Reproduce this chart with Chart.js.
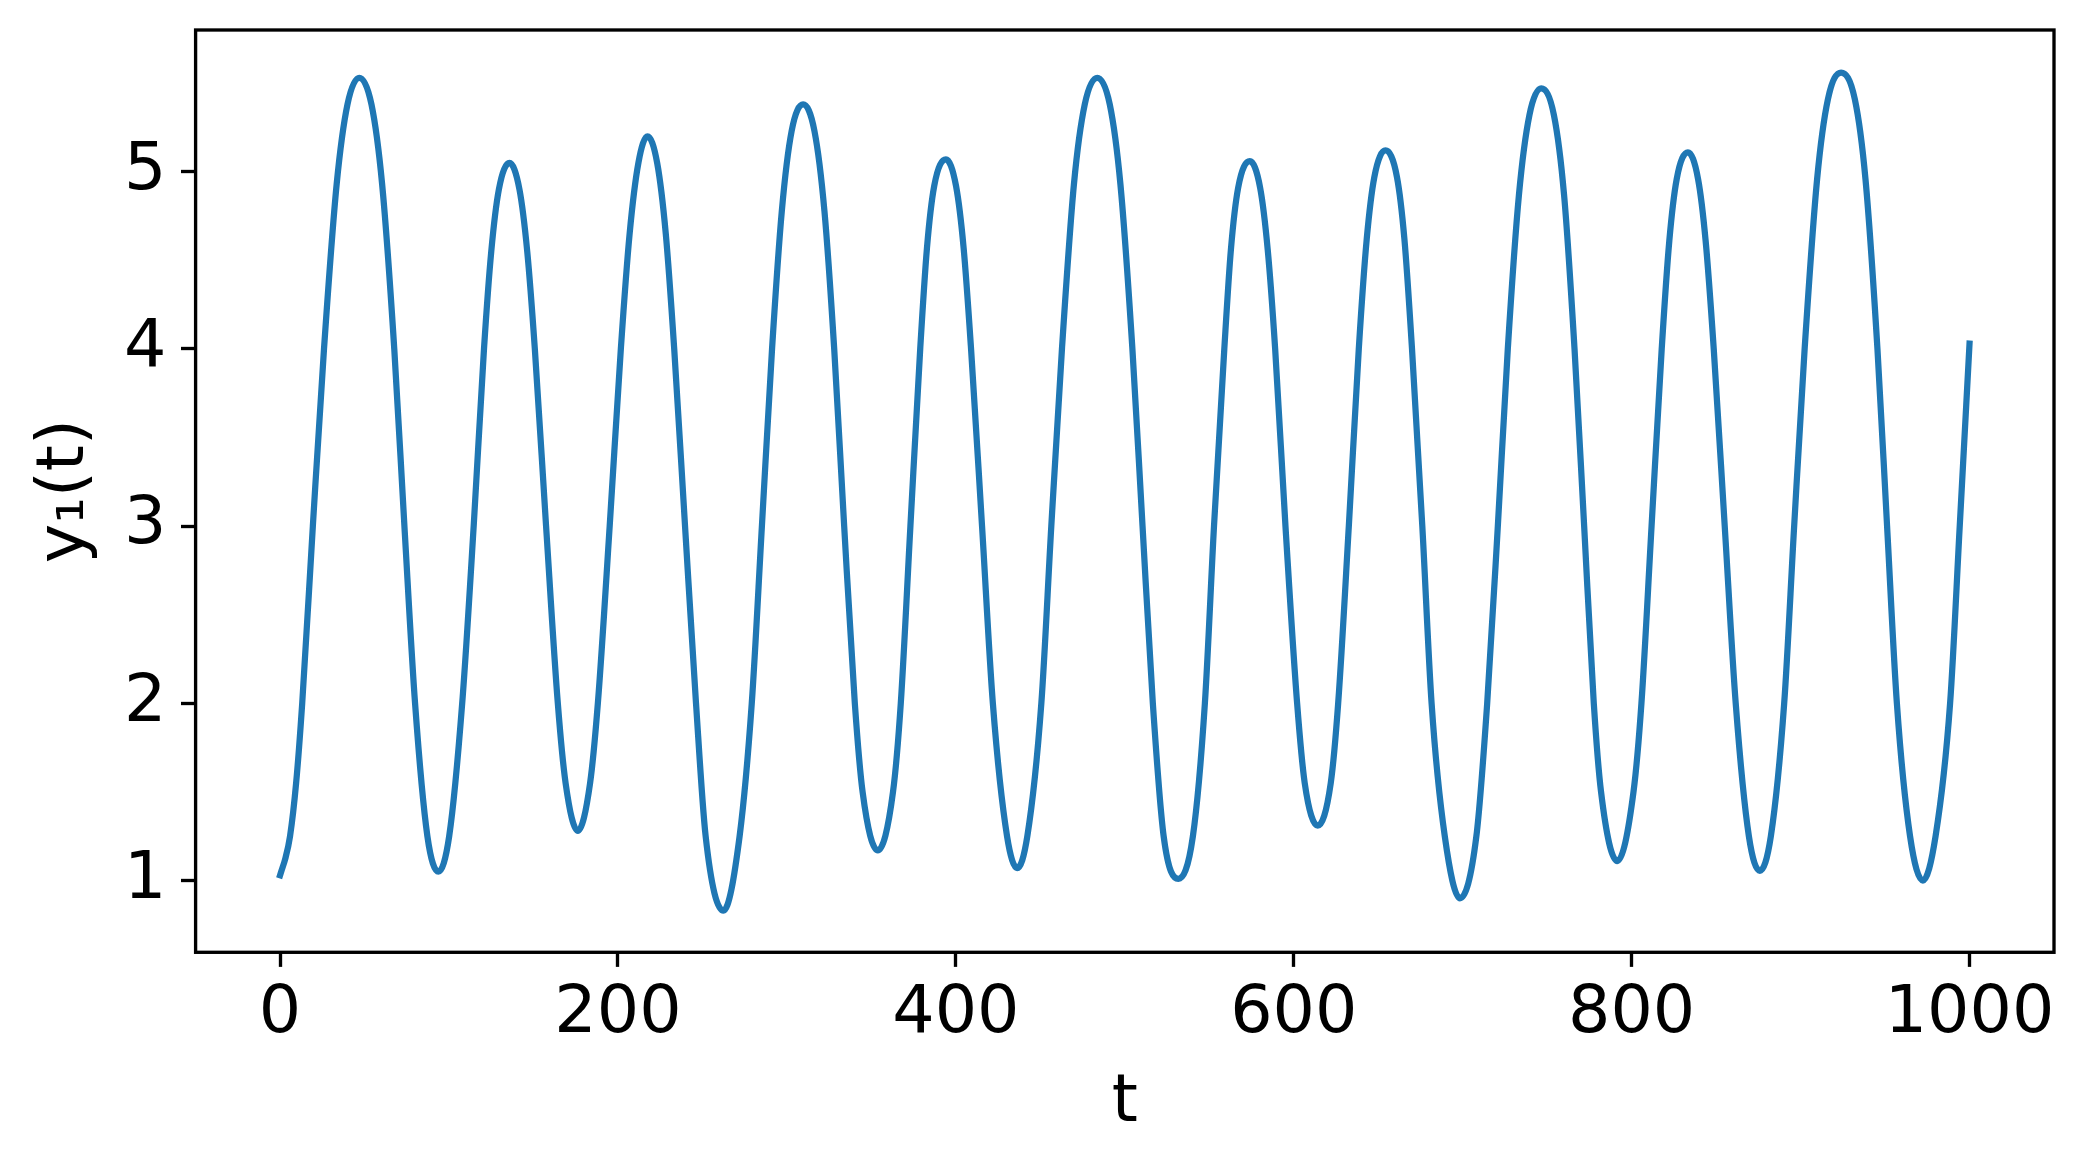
<!DOCTYPE html>
<html>
<head>
<meta charset="utf-8">
<script src="https://cdn.jsdelivr.net/npm/chart.js"></script>
<style>
  html, body { margin: 0; padding: 0; background: #ffffff; }
  #wrap { width: 2089px; height: 1167px; }
  canvas { display: block; }
</style>
</head>
<body>
<div id="wrap"><canvas id="c" width="2089" height="1167"></canvas></div>
<script>
// Data (t, y1) — one line per half-cycle
const tValues = [
  0, 1.0, 3.0, 5.9, 9.5, 13.1, 19.4, 26.0, 33.5, 39.9, 46.9, 54.1, 60.4, 67.6, 73.6, 79.9,
  87.2, 93.7, 100.1, 107.8,
  114.6, 120.7, 125.0, 129.5, 135.8, 141.7, 146.3, 150.8, 157.45, 164.4,
  169.0, 176.25, 183.5, 188.1,
  195.1, 201.7, 206.9, 212.1, 217.5, 223.2, 228.3, 233.3, 239.7, 246.2,
  251.9, 262.4, 272.0, 279.2,
  285.2, 291.2, 297.0, 302.8, 309.6, 316.3, 322.2, 328.0, 333.9, 340.2,
  344.8, 353.8, 362.8, 367.4,
  373.1, 378.9, 382.9, 387.2, 394.1, 400.1, 404.6, 409.0, 415.5, 421.9,
  430.3, 436.3, 442.3, 450.6,
  456.5, 462.8, 469.9, 476.3, 483.7, 491.1, 497.4, 504.5, 510.5, 516.6,
  523.0, 531.7, 540.3, 547.4,
  552.8, 558.9, 562.8, 567.1, 574.0, 580.1, 584.6, 589.0, 595.1, 602.0,
  606.5, 614.2, 621.9, 626.3,
  632.6, 638.5, 643.2, 647.7, 654.3, 661.1, 665.5, 670.0, 676.1, 681.6,
  689.4, 698.4, 708.1, 714.5,
  720.8, 726.7, 733.3, 739.5, 746.5, 754.0, 760.0, 766.2, 771.9, 777.6,
  781.9, 791.5, 801.1, 805.8,
  811.8, 817.8, 822.3, 826.7, 833.3, 839.3, 843.8, 848.6, 855.1, 861.6,
  869.4, 875.9, 882.4, 890.3,
  896.2, 902.4, 909.8, 916.2, 924.0, 932.1, 938.4, 945.5, 951.2, 957.0,
  964.8, 972.4, 979.9, 988.5, 994.2, 1000.0
];
const yValues = [
  1.03, 1.06, 1.12, 1.25, 1.55, 2.0, 3.0, 4.0, 4.93, 5.38, 5.53, 5.38, 4.93, 4.0, 3.0, 2.0,
  1.25, 1.05, 1.25, 2.0,
  3.0, 4.0, 4.55, 4.9, 5.05, 4.9, 4.55, 4.0, 3.0, 2.0,
  1.55, 1.28, 1.55, 2.0,
  3.0, 4.0, 4.65, 5.05, 5.2, 5.05, 4.65, 4.0, 3.0, 2.0,
  1.25, 0.83, 1.25, 2.0,
  3.0, 4.0, 4.78, 5.23, 5.38, 5.23, 4.78, 4.0, 3.0, 2.0,
  1.5, 1.17, 1.5, 2.0,
  3.0, 4.0, 4.57, 4.92, 5.07, 4.92, 4.57, 4.0, 3.0, 2.0,
  1.25, 1.07, 1.25, 2.0,
  3.0, 4.0, 4.93, 5.38, 5.53, 5.38, 4.93, 4.0, 3.0, 2.0,
  1.25, 1.01, 1.25, 2.0,
  3.0, 4.0, 4.56, 4.91, 5.06, 4.91, 4.56, 4.0, 3.0, 2.0,
  1.55, 1.31, 1.55, 2.0,
  3.0, 4.0, 4.62, 4.97, 5.12, 4.97, 4.62, 4.0, 3.0, 2.0,
  1.25, 0.90, 1.25, 2.0,
  3.0, 4.0, 4.87, 5.32, 5.47, 5.32, 4.87, 4.0, 3.0, 2.0,
  1.5, 1.11, 1.5, 2.0,
  3.0, 4.0, 4.61, 4.96, 5.11, 4.96, 4.61, 4.0, 3.0, 2.0,
  1.25, 1.055, 1.25, 2.0,
  3.0, 4.0, 4.96, 5.41, 5.56, 5.41, 4.96, 4.0, 3.0, 2.0,
  1.25, 1.0, 1.25, 2.0, 3.0, 4.03
];
const xTicks = [0, 200, 400, 600, 800, 1000];
const yTicks = [1, 2, 3, 4, 5];
const xLabel = 't';
const yLabel = 'y\u2081(t)';

const points = tValues.map((t, i) => ({ x: t, y: yValues[i] }));

const PT = 300 / 72;
const FONT = { family: "'DejaVu Sans', sans-serif", size: 16 * PT, lineHeight: 1 };
const PLOT = { left: 195.6, right: 2054, top: 30, bottom: 952.3 };

const framePlugin = {
  id: 'frame',
  afterDatasetsDraw(chart) {
    const a = chart.chartArea;
    const ctx = chart.ctx;
    ctx.save();
    ctx.strokeStyle = '#000000';
    ctx.lineWidth = 0.8 * PT;
    ctx.lineJoin = 'miter';
    ctx.strokeRect(a.left, a.top, a.right - a.left, a.bottom - a.top);
    ctx.restore();
  }
};

new Chart(document.getElementById('c'), {
  type: 'line',
  data: {
    datasets: [{
      data: points,
      borderColor: '#1f77b4',
      borderWidth: 1.5 * PT,
      borderCapStyle: 'square',
      borderJoinStyle: 'round',
      pointRadius: 0,
      fill: false,
      cubicInterpolationMode: 'monotone'
    }]
  },
  options: {
    responsive: false,
    animation: false,
    devicePixelRatio: 1,
    layout: { padding: { left: 0, top: PLOT.top, right: 2089 - PLOT.right, bottom: 0 } },
    plugins: { legend: { display: false }, tooltip: { enabled: false } },
    scales: {
      x: {
        type: 'linear',
        min: -50,
        max: 1050,
        afterBuildTicks(scale) { scale.ticks = xTicks.map(v => ({ value: v })); },
        afterFit(scale) {
          scale.height = 1167 - PLOT.bottom;
          scale.paddingLeft = 0; scale.paddingRight = 0;
        },
        grid: { drawOnChartArea: false, drawTicks: true, tickLength: 3.5 * PT, tickWidth: 0.8 * PT, tickColor: '#000000' },
        border: { display: false },
        ticks: { color: '#000000', font: FONT, padding: 14, maxRotation: 0, autoSkip: false, callback: v => String(v) },
        title: { display: true, text: xLabel, color: '#000000', font: FONT, padding: { top: 0, bottom: 29.5 } }
      },
      y: {
        type: 'linear',
        min: 0.595,
        max: 5.80,
        afterBuildTicks(scale) { scale.ticks = yTicks.map(v => ({ value: v })); },
        afterFit(scale) {
          scale.width = PLOT.left;
          scale.paddingTop = 0; scale.paddingBottom = 0;
        },
        grid: { drawOnChartArea: false, drawTicks: true, tickLength: 3.5 * PT, tickWidth: 0.8 * PT, tickColor: '#000000' },
        border: { display: false },
        ticks: { color: '#000000', font: FONT, padding: 3.5 * PT, autoSkip: false, callback: v => String(v) },
        title: { display: true, text: yLabel, color: '#000000', font: FONT, padding: { top: 32.7, bottom: 0 } }
      }
    }
  },
  plugins: [framePlugin]
});
</script>
</body>
</html>
